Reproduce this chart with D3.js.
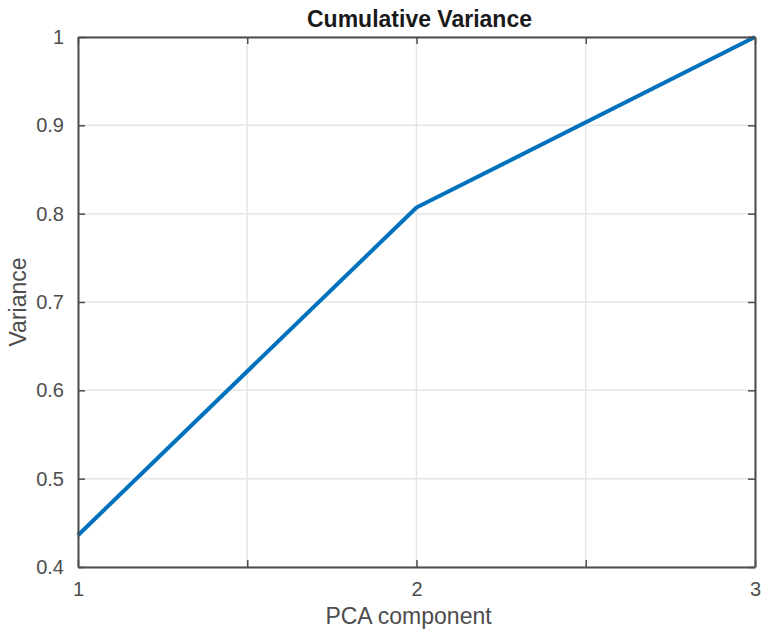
<!DOCTYPE html>
<html>
<head>
<meta charset="UTF-8">
<script src="https://d3js.org/d3.v7.min.js"></script>
<style>
    body { margin: 0; background: #fff; }
    svg text { font-family: "Liberation Sans", Arial, sans-serif; }
</style>
</head>
<body>
<svg id="chart" width="771" height="641"></svg>
<script>
    // data
    const components = [1, 2, 3];
    const variance = [0.436, 0.807, 1.0];
    const xTicks = [1, 1.5, 2, 2.5, 3];
    const xLabelTicks = [1, 2, 3];
    const yTicks = [0.4, 0.5, 0.6, 0.7, 0.8, 0.9, 1];

    const svg = d3.select("#chart");
    const margin = { left: 78, top: 37, right: 16, bottom: 74 };
    const width = 771 - margin.left - margin.right;
    const height = 641 - margin.top - margin.bottom;

    const x = d3.scaleLinear().domain([1, 3]).range([0, width]);
    const y = d3.scaleLinear().domain([0.4, 1]).range([height, 0]);

    const g = svg.append("g").attr("transform", `translate(${margin.left},${margin.top})`);

    // grid
    g.append("g").selectAll("line").data(xTicks).enter().append("line")
        .attr("x1", d => x(d)).attr("x2", d => x(d))
        .attr("y1", 0).attr("y2", height)
        .attr("stroke", "#e6e6e6").attr("stroke-width", 1.5);
    g.append("g").selectAll("line").data(yTicks).enter().append("line")
        .attr("x1", 0).attr("x2", width)
        .attr("y1", d => y(d)).attr("y2", d => y(d))
        .attr("stroke", "#e6e6e6").attr("stroke-width", 1.5);

    // line
    const line = d3.line().x((d, i) => x(components[i])).y(d => y(d));
    g.append("path").datum(variance)
        .attr("d", line)
        .attr("fill", "none")
        .attr("stroke", "#0072bd")
        .attr("stroke-width", 4)
        .attr("stroke-linejoin", "round");

    // axes box
    const axisColor = "#4d4d4d";
    const fmt = d => (d === 1 ? "1" : d3.format(".1f")(d));

    const xAxis = g.append("g").attr("transform", `translate(0,${height})`)
        .call(d3.axisBottom(x).tickValues(xTicks).tickSizeInner(-7).tickSizeOuter(0)
            .tickFormat(d => xLabelTicks.includes(d) ? d : ""));
    const xAxisTop = g.append("g")
        .call(d3.axisTop(x).tickValues(xTicks).tickSizeInner(-7).tickSizeOuter(0).tickFormat(""));
    const yAxis = g.append("g")
        .call(d3.axisLeft(y).tickValues(yTicks).tickSizeInner(-7).tickSizeOuter(0).tickFormat(fmt));
    const yAxisRight = g.append("g").attr("transform", `translate(${width},0)`)
        .call(d3.axisRight(y).tickValues(yTicks).tickSizeInner(-7).tickSizeOuter(0).tickFormat(""));

    [xAxis, xAxisTop, yAxis, yAxisRight].forEach(a => {
        a.attr("font-size", 20).attr("font-family", null);
        a.select(".domain").attr("stroke", axisColor).attr("stroke-width", 2);
        a.selectAll(".tick line").attr("stroke", axisColor).attr("stroke-width", 1.5);
        a.selectAll(".tick text").attr("fill", axisColor).attr("font-size", 20);
    });
    xAxis.selectAll(".tick text").attr("dy", 0).attr("y", 29);
    yAxis.selectAll(".tick text").attr("x", -14);

    // labels
    svg.append("text")
        .attr("x", margin.left + width / 2 + 3).attr("y", 27)
        .attr("text-anchor", "middle")
        .attr("font-weight", "bold").attr("font-size", 23)
        .attr("fill", "#1a1a1a")
        .text("Cumulative Variance");

    svg.append("text")
        .attr("x", margin.left + width / 2 - 8).attr("y", 624)
        .attr("text-anchor", "middle")
        .attr("font-size", 23).attr("fill", axisColor)
        .text("PCA component");

    svg.append("text")
        .attr("transform", `translate(26,${margin.top + height / 2}) rotate(-90)`)
        .attr("text-anchor", "middle")
        .attr("font-size", 23).attr("fill", axisColor)
        .text("Variance");
</script>
</body>
</html>
